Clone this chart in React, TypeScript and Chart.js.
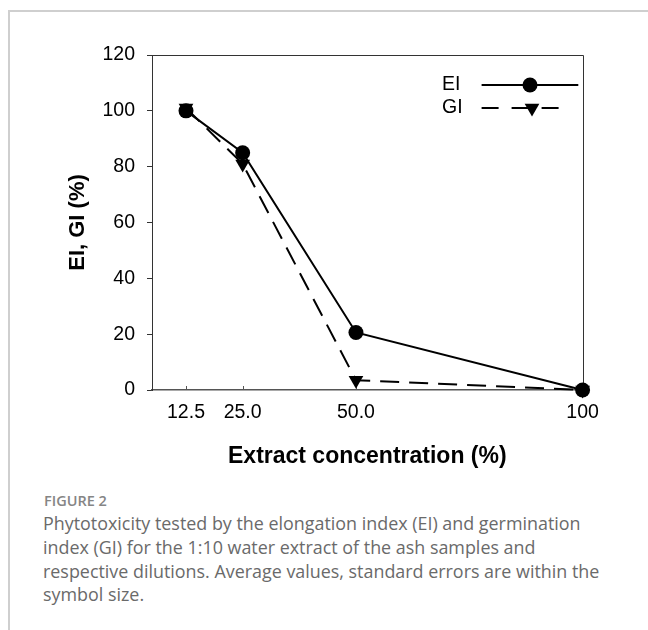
import React, { useEffect, useRef } from "react";
import { Chart, registerables } from "chart.js";

Chart.register(...registerables);

// ---- data ----
const concentrations = [12.5, 25, 50, 100];
const xTickLabels = ["12.5", "25.0", "50.0", "100"];
const eiValues = [100, 85, 20.6, 0];
const giValues = [101, 81, 3.5, 0];
const yTickValues = [0, 20, 40, 60, 80, 100, 120];
const seriesNames = ["EI", "GI"];
const xAxisTitle = "Extract concentration (%)";
const yAxisTitle = "EI, GI (%)";
const captionLabel = "FIGURE 2";
const captionLines = [
  "Phytotoxicity tested by the elongation index (EI) and germination",
  "index (GI) for the 1:10 water extract of the ash samples and",
  "respective dilutions. Average values, standard errors are within the",
  "symbol size.",
];

const FONT = "'Liberation Sans', Arial, sans-serif";
const DASH = [19, 10];

function drawTriangleDown(ctx: CanvasRenderingContext2D, x: number, y: number, r: number) {
  ctx.beginPath();
  ctx.moveTo(x, y + r);
  ctx.lineTo(x - 0.866 * r, y - 0.5 * r);
  ctx.lineTo(x + 0.866 * r, y - 0.5 * r);
  ctx.closePath();
  ctx.fill();
}

const decorations = {
  id: "decorations",
  beforeDatasetsDraw(chart: any) {
    const { ctx, chartArea: a, scales } = chart;
    ctx.save();
    ctx.strokeStyle = "#333";
    ctx.lineWidth = 1;
    ctx.beginPath();
    ctx.moveTo(a.left, Math.round(a.top) + 0.5);
    ctx.lineTo(Math.round(a.right) + 0.5, Math.round(a.top) + 0.5);
    ctx.lineTo(Math.round(a.right) + 0.5, a.bottom);
    ctx.stroke();
    // inner x ticks
    ctx.strokeStyle = "#555";
    ctx.beginPath();
    concentrations.forEach((v) => {
      const px = Math.round(scales.x.getPixelForValue(v)) + 0.5;
      ctx.moveTo(px, a.bottom);
      ctx.lineTo(px, a.bottom - 4);
    });
    ctx.stroke();
    ctx.restore();
  },
  afterDraw(chart: any) {
    const { ctx, chartArea: a } = chart;
    ctx.save();
    ctx.fillStyle = "#000";
    ctx.strokeStyle = "#000";
    ctx.font = `19.5px ${FONT}`;
    ctx.textBaseline = "middle";
    ctx.textAlign = "left";
    const textX = a.right - 140.6;
    const rows = [a.top + 30, a.top + 53];
    // EI
    ctx.fillText(seriesNames[0], textX, rows[0]);
    ctx.lineWidth = 2;
    ctx.beginPath();
    ctx.moveTo(a.right - 101, rows[0]);
    ctx.lineTo(a.right - 4.3, rows[0]);
    ctx.stroke();
    ctx.beginPath();
    ctx.arc(a.right - 52.6, rows[0], 7.5, 0, Math.PI * 2);
    ctx.fill();
    // GI
    ctx.fillText(seriesNames[1], textX, rows[1]);
    ctx.setLineDash([17, 13]);
    ctx.beginPath();
    ctx.moveTo(a.right - 101, rows[1]);
    ctx.lineTo(a.right - 11, rows[1]);
    ctx.stroke();
    ctx.setLineDash([]);
    drawTriangleDown(ctx, a.right - 50.6, rows[1], 8.5);
    ctx.restore();
  },
};

function ChartView() {
  const ref = useRef<HTMLCanvasElement>(null);
  useEffect(() => {
    if (!ref.current) return;
    const chart = new Chart(ref.current, {
      type: "line",
      data: {
        datasets: [
          {
            label: seriesNames[0],
            data: concentrations.map((c, i) => ({ x: c, y: eiValues[i] })),
            borderColor: "#000",
            backgroundColor: "#000",
            borderWidth: 2,
            pointStyle: "circle",
            pointRadius: 7.5,
            pointBorderWidth: 0,
            pointBackgroundColor: "#000",
            tension: 0,
            clip: false as any,
          },
          {
            label: seriesNames[1],
            data: concentrations.map((c, i) => ({ x: c, y: giValues[i] })),
            borderColor: "#000",
            backgroundColor: "#000",
            borderWidth: 2,
            borderDash: DASH,
            pointStyle: "triangle",
            rotation: 180,
            pointRadius: 8.5,
            pointBorderWidth: 0,
            pointBackgroundColor: "#000",
            tension: 0,
            clip: false as any,
          },
        ],
      },
      options: {
        responsive: false,
        animation: false,
        devicePixelRatio: 1,
        layout: { padding: { left: 0, right: 65.4, top: 55, bottom: 0 } },
        plugins: {
          legend: { display: false },
          tooltip: { enabled: false },
        },
        scales: {
          x: {
            type: "linear",
            min: 5,
            max: 100,
            afterBuildTicks: (s: any) => {
              s.ticks = concentrations.map((v) => ({ value: v }));
            },
            afterFit: (s: any) => {
              s.height = 90;
              s.paddingLeft = 0;
              s.paddingRight = 0;
            },
            ticks: {
              autoSkip: false,
              maxRotation: 0,
              padding: 10.5,
              color: "#000",
              font: { family: FONT, size: 19.5 },
              callback: (v: any) => xTickLabels[concentrations.indexOf(Number(v))],
            },
            grid: { drawOnChartArea: false, drawTicks: false, color: "#555" },
            border: { color: "#555", width: 1.5 },
            title: {
              display: true,
              text: xAxisTitle,
              color: "#000",
              font: { family: FONT, size: 23, weight: "bold" },
              padding: { top: 0, bottom: 10 },
            },
          },
          y: {
            min: 0,
            max: 120,
            afterBuildTicks: (s: any) => {
              s.ticks = yTickValues.map((v) => ({ value: v }));
            },
            afterFit: (s: any) => {
              s.width = 152;
              s.paddingTop = 0;
              s.paddingBottom = 0;
            },
            ticks: {
              padding: 12,
              color: "#000",
              font: { family: FONT, size: 19.5 },
            },
            grid: { drawOnChartArea: false, drawTicks: true, tickLength: 5, color: "#333" },
            border: { color: "#333", width: 1 },
            title: {
              display: true,
              text: yAxisTitle,
              color: "#000",
              font: { family: FONT, size: 22, weight: "bold" },
              padding: { top: 65, bottom: 0 },
            },
          },
        },
      },
      plugins: [decorations],
    } as any);
    return () => chart.destroy();
  }, []);
  return (
    <canvas
      ref={ref}
      width={648}
      height={480}
      style={{ position: "absolute", left: 0, top: 0, width: 648, height: 480, display: "block" }}
    />
  );
}

export default function App() {
  return (
    <div style={{ position: "absolute", left: 0, top: 0, width: 648, height: 630, overflow: "hidden", background: "#fff" }}>
      <div
        style={{
          position: "absolute",
          left: 8,
          top: 10,
          width: 660,
          height: 660,
          borderTop: "2px solid #cfcfcf",
          borderLeft: "2px solid #cfcfcf",
        }}
      />
      <ChartView />
      <div
        style={{
          position: "absolute",
          left: 44,
          top: 490.8,
          fontFamily: "'Open Sans', sans-serif",
          fontSize: 14.5,
          fontWeight: 600,
          lineHeight: "20px",
          color: "#858585",
          whiteSpace: "nowrap",
        }}
      >
        {captionLabel}
      </div>
      <div
        style={{
          position: "absolute",
          left: 43,
          top: 512,
          fontFamily: "'Open Sans', sans-serif",
          fontSize: 17.9,
          fontWeight: 400,
          lineHeight: "23.8px",
          color: "#6a6a6a",
          whiteSpace: "nowrap",
        }}
      >
        {captionLines.map((l, i) => (
          <div key={i}>{l}</div>
        ))}
      </div>
    </div>
  );
}
